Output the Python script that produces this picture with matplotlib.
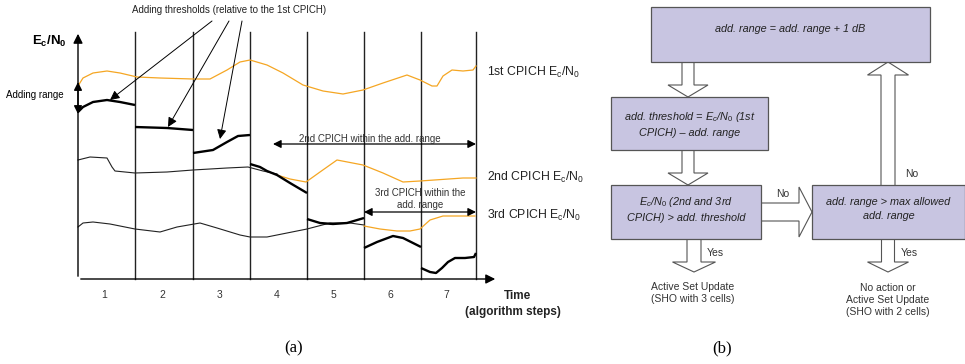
import matplotlib
matplotlib.use('Agg')
import matplotlib.pyplot as plt
from matplotlib.patches import Rectangle, Polygon
import numpy as np

plt.rcParams['font.family'] = ['Liberation Sans', 'DejaVu Sans']
plt.rcParams['mathtext.fontset'] = 'custom'
plt.rcParams['mathtext.rm'] = 'Liberation Sans'
plt.rcParams['mathtext.it'] = 'Liberation Sans:italic'
plt.rcParams['mathtext.bf'] = 'Liberation Sans:bold'

# ---- data (a): pixel-space traces ----
step_labels = ['1', '2', '3', '4', '5', '6', '7']
step_edges = [78, 135, 193, 250, 307, 364, 421, 476]

cpich1_x = [78, 83, 93, 107, 120, 137, 160, 193, 210, 227, 240, 250, 267, 283, 303,
            323, 343, 363, 383, 407, 420, 432, 437, 443, 452, 463, 473, 476]
cpich1_y = [86, 78, 73, 71, 73, 77, 78, 79, 79, 70, 62, 60, 65, 73, 85,
            91, 94, 90, 83, 75, 80, 86, 86, 76, 70, 71, 70, 66]

cpich2_bx = [78, 90, 107, 112, 115, 135, 167, 193, 227, 248, 263, 277]
cpich2_by = [160, 157, 158, 167, 171, 173, 172, 170, 168, 167, 171, 174]
cpich2_ox = [277, 290, 306, 320, 337, 363, 383, 403, 420, 463, 476]
cpich2_oy = [175, 179, 182, 172, 160, 165, 173, 182, 181, 178, 178]

cpich3_bx = [78, 83, 93, 110, 135, 160, 177, 200, 217, 240, 250, 267, 307, 330, 350, 364]
cpich3_by = [227, 223, 222, 224, 229, 232, 227, 223, 228, 235, 237, 237, 229, 223, 223, 225]
cpich3_ox = [364, 380, 397, 410, 420, 430, 443, 475]
cpich3_oy = [226, 229, 231, 231, 229, 220, 216, 216]

thr_x = [
    [78, 83, 93, 107, 120, 135],
    [135, 167, 193],
    [193, 213, 227, 238, 250],
    [250, 260, 267, 277, 290, 307],
    [307, 320, 333, 347, 364],
    [364, 377, 393, 403, 421],
    [421, 430, 436, 442, 448, 455, 465, 474, 476],
]
thr_y = [
    [112, 107, 102, 100, 102, 105],
    [127, 128, 130],
    [153, 150, 142, 136, 135],
    [164, 167, 171, 175, 183, 193],
    [219, 223, 224, 223, 218],
    [248, 242, 236, 238, 247],
    [268, 272, 273, 268, 262, 258, 258, 257, 253],
]

ORANGE = '#F5A623'
FILL = '#C8C5E1'
EDGE = '#555555'

fig = plt.figure(figsize=(9.65, 3.64), dpi=100)
ax = fig.add_axes([0, 0, 1, 1])
ax.set_xlim(0, 965)
ax.set_ylim(364, 0)
ax.axis('off')

# axes of panel (a)
ax.annotate('', xy=(78, 31), xytext=(78, 279),
            arrowprops=dict(arrowstyle='-|>', lw=1.0, color='black', mutation_scale=14))
ax.annotate('', xy=(498, 279), xytext=(78, 279),
            arrowprops=dict(arrowstyle='-|>', lw=1.0, color='black', mutation_scale=14))
for x in step_edges[1:]:
    ax.plot([x, x], [32, 279], color='#222222', lw=1.0)
for i, lab in enumerate(step_labels):
    ax.text((step_edges[i] + step_edges[i + 1]) / 2 - 2, 295, lab, ha='center', va='center',
            fontsize=7.5, color='#333333')

# curves
ax.plot(cpich1_x, cpich1_y, color=ORANGE, lw=0.9)
ax.plot(cpich2_bx, cpich2_by, color='#222222', lw=0.8)
ax.plot(cpich2_ox, cpich2_oy, color=ORANGE, lw=0.9)
ax.plot(cpich3_bx, cpich3_by, color='#222222', lw=0.8)
ax.plot(cpich3_ox, cpich3_oy, color=ORANGE, lw=0.9)
for xs, ys in zip(thr_x, thr_y):
    ax.plot(xs, ys, color='black', lw=1.7, solid_capstyle='butt')

# labels of panel (a)
ax.text(32, 41, r'$\mathbf{E_c/N_0}$', ha='left', va='center', fontsize=9.5)
ax.text(6, 95, 'Adding range', ha='left', va='center', fontsize=7)
ax.annotate('', xy=(78, 82), xytext=(78, 114),
            arrowprops=dict(arrowstyle='<|-|>', lw=1.0, color='black', mutation_scale=12,
                            shrinkA=0, shrinkB=0))
ax.text(229, 10, 'Adding thresholds (relative to the 1st CPICH)', ha='center', va='center',
        fontsize=7, color='#222222')
for sx, tx, ty in [(212, 110, 100), (229, 168, 127), (242, 220, 139)]:
    ax.annotate('', xy=(tx, ty), xytext=(sx, 21),
                arrowprops=dict(arrowstyle='-|>', lw=0.7, color='black', mutation_scale=14,
                                shrinkA=0, shrinkB=0))

for lab, y in [('1st', 72), ('2nd', 177), ('3rd', 215)]:
    ax.text(487, y, lab + r' CPICH E$_\mathregular{c}$/N$_\mathregular{0}$', ha='left',
            va='center', fontsize=8.8, color='#222222')

ax.annotate('', xy=(273, 144), xytext=(476, 144),
            arrowprops=dict(arrowstyle='<|-|>', lw=0.9, color='black', mutation_scale=12,
                            shrinkA=0, shrinkB=0))
ax.text(370, 139, '2nd CPICH within the add. range', ha='center', va='center',
        fontsize=7, color='#333333')
ax.annotate('', xy=(364, 212), xytext=(476, 212),
            arrowprops=dict(arrowstyle='<|-|>', lw=0.9, color='black', mutation_scale=12,
                            shrinkA=0, shrinkB=0))
ax.text(420, 199, '3rd CPICH within the\nadd. range', ha='center', va='center',
        fontsize=7, color='#333333', linespacing=1.3)

ax.text(517, 296, 'Time', ha='center', va='center', fontsize=8.5, fontweight='bold',
        color='#222222')
ax.text(513, 312, '(algorithm steps)', ha='center', va='center', fontsize=8.5,
        fontweight='bold', color='#222222')
ax.text(294, 348, '(a)', ha='center', va='center', fontsize=12, family='Liberation Serif')

# ---- panel (b): flowchart ----
def box(x0, y0, x1, y1, text, ty):
    ax.add_patch(Rectangle((x0, y0), x1 - x0, y1 - y0, fc=FILL, ec=EDGE, lw=0.9, zorder=3))
    ax.text((x0 + x1) / 2, ty, text, ha='center', va='center', fontsize=7.8,
            style='italic', color='#222222', linespacing=1.45, zorder=4)


def block_arrow(x0, y0, x1, y1, w, hw, hl):
    d = np.array([x1 - x0, y1 - y0], dtype=float)
    d /= np.hypot(*d)
    n = np.array([-d[1], d[0]])
    s = np.array([x0, y0], dtype=float)
    t = np.array([x1, y1], dtype=float)
    b = t - d * hl
    pts = [s + n * w / 2, b + n * w / 2, b + n * hw / 2, t,
           b - n * hw / 2, b - n * w / 2, s - n * w / 2]
    ax.add_patch(Polygon(pts, closed=False, fc='white', ec=EDGE, lw=0.8, zorder=2))


box(651, 7, 930, 62, 'add. range = add. range + 1 dB', 29)
box(611, 97, 768, 150, 'add. threshold = E$_c$/N$_0$ (1st\nCPICH) \u2013 add. range', 124)
box(611, 185, 761, 239, 'E$_c$/N$_0$ (2nd and 3rd\nCPICH) > add. threshold', 209)
box(812, 185, 965, 239, 'add. range > max allowed\nadd. range', 209)

block_arrow(688, 62, 688, 97, 12, 40, 12)
block_arrow(688, 150, 688, 185, 12, 40, 12)
block_arrow(761, 212, 812, 212, 18, 50, 13)
block_arrow(888, 185, 888, 62, 14, 41, 13)
block_arrow(694, 239, 694, 272, 14, 43, 10)
block_arrow(888, 239, 888, 272, 13, 41, 10)

ax.text(783, 194, 'No', ha='center', va='center', fontsize=7.5, color='#333333')
ax.text(905, 174, 'No', ha='left', va='center', fontsize=7.5, color='#333333')
ax.text(707, 253, 'Yes', ha='left', va='center', fontsize=7.5, color='#333333')
ax.text(901, 253, 'Yes', ha='left', va='center', fontsize=7.5, color='#333333')
ax.text(693, 293, 'Active Set Update\n(SHO with 3 cells)', ha='center', va='center',
        fontsize=7.5, color='#333333', linespacing=1.3)
ax.text(888, 300, 'No action or\nActive Set Update\n(SHO with 2 cells)', ha='center',
        va='center', fontsize=7.5, color='#333333', linespacing=1.3)
ax.text(722, 348, '(b)', ha='center', va='center', fontsize=12, family='Liberation Serif')

fig.savefig('out.png', dpi=100)
